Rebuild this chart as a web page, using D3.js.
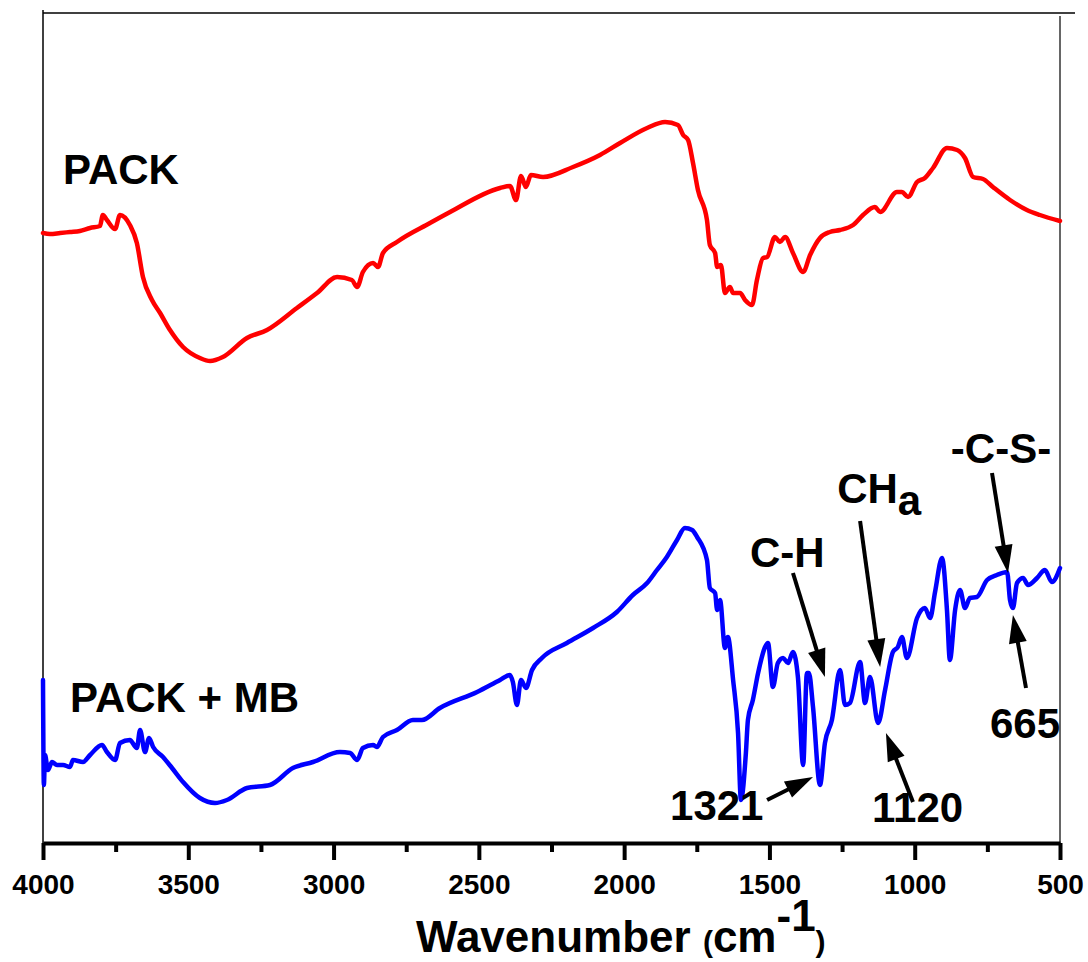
<!DOCTYPE html>
<html>
<head>
<meta charset="utf-8">
<script src="https://cdn.jsdelivr.net/npm/d3@7"></script>
<style>
    body{margin:0;background:#fff;}
    svg text{font-family:"Liberation Sans", Arial, sans-serif;font-weight:bold;fill:#000;}
</style>
</head>
<body>
<div id="chart"></div>
<script>
// FTIR spectra, signal in arbitrary units
const packWavenumber = [4000,3976,3941,3907,3873,3838,3804,3794,3780,3752,
    3735,3701,3677,3656,3625,3597,3563,3518,3460,3425,
    3381,3298,3229,3126,3057,2988,2937,2919,2899,2864,
    2847,2830,2782,2668,2599,2427,2393,2372,2355,2338,
    2321,2279,2176,2083,2014,1921,1859,1815,1797,1780,
    1763,1746,1715,1705,1687,1680,1667,1653,1636,1625,
    1601,1584,1560,1543,1522,1508,1481,1464,1446,1419,
    1384,1360,1326,1292,1257,1212,1178,1137,1119,1061,
    1044,1023,992,965,937,889,854,827,799,765,
    731,672,614,569,500];
const packSignal = [61.0,60.9,61.0,61.1,61.2,61.5,61.7,62.8,62.3,61.4,
    62.8,61.8,60.0,56.6,54.3,53.0,51.3,49.6,48.5,48.2,
    48.6,50.5,51.3,53.5,55.0,56.6,56.3,55.6,57.1,58.0,
    57.6,59.0,60.1,62.0,63.1,65.5,65.7,64.3,66.7,65.6,
    66.8,66.6,67.6,68.8,70.0,71.5,72.1,71.8,70.8,70.3,
    68.0,65.3,62.3,59.8,59.0,57.6,57.8,55.0,55.6,55.0,
    55.0,54.3,53.8,56.3,58.5,58.6,60.6,60.1,60.6,59.0,
    57.1,58.8,60.5,61.1,61.3,61.8,62.8,63.6,63.1,65.1,
    65.1,64.6,66.1,66.5,67.5,69.5,69.3,68.5,66.6,66.4,
    65.6,64.3,63.3,62.8,62.2];

const mbWavenumber = [4000,3997,3993,3983,3969,3952,3931,3907,3897,3862,
    3838,3797,3780,3752,3735,3701,3677,3666,3649,3635,
    3621,3587,3556,3518,3460,3408,3367,3298,3219,3140,
    3071,2978,2943,2919,2899,2864,2851,2830,2782,2727,
    2696,2634,2506,2427,2393,2383,2369,2355,2338,2317,
    2283,2197,2107,2025,1970,1921,1887,1853,1818,1791,
    1766,1749,1715,1705,1687,1680,1670,1653,1643,1625,
    1608,1598,1581,1574,1557,1539,1515,1505,1488,1471,
    1453,1436,1419,1402,1384,1371,1364,1350,1326,1309,
    1285,1257,1240,1223,1188,1171,1154,1126,1102,1075,
    1058,1044,1027,992,965,947,930,906,889,879,
    861,844,827,810,786,751,717,682,672,662,
    648,627,610,579,552,528,500];
const mbSignal = [16.3,5.8,8.8,7.3,8.1,7.8,7.8,7.6,8.3,8.1,
    8.8,9.8,9.1,8.3,10.0,10.3,9.5,11.3,9.1,10.5,
    9.6,8.6,7.5,6.1,4.5,4.0,4.3,5.5,5.8,7.5,
    8.1,9.1,9.0,8.3,9.5,9.8,9.6,10.6,11.3,12.3,
    12.3,13.5,15.1,16.3,16.8,16.1,13.8,16.3,15.5,17.3,
    18.5,20.0,21.5,23.1,24.8,26.0,27.3,28.6,30.3,31.5,
    31.3,30.6,28.3,25.5,25.0,23.3,24.3,19.5,20.6,16.3,
    11.0,4.3,9.0,12.3,14.3,17.0,19.6,20.0,15.6,18.0,
    18.5,18.0,19.1,16.6,7.8,17.0,17.0,13.6,5.8,10.0,
    12.3,17.3,13.8,14.0,18.1,14.0,16.6,12.0,15.3,19.1,
    19.6,20.6,18.5,22.5,23.5,22.5,25.1,28.5,23.3,18.3,
    23.3,25.3,23.5,24.5,24.6,26.3,26.8,27.1,24.3,23.5,
    26.0,26.5,25.8,26.5,27.3,26.1,27.5];

const majorTicks = [4000,3500,3000,2500,2000,1500,1000,500];
const minorTicks = [3750,3250,2750,2250,1750,1250,750];

const seriesColors = ["#ff0000", "#0000ff"];

// peak labels and arrows, in (wavenumber, signal) units
const peakLabels = [
    {text:"PACK", w:3931, v:65.9, anchor:"start"},
    {text:"PACK + MB", w:3907, v:13.1, anchor:"start"},
    {text:"C-H", w:1567, v:27.6, anchor:"start"},
    {text:"CH", sub:"a", w:1267, v:34.0, anchor:"start"},
    {text:"-C-S-", w:703, v:38.0, anchor:"middle"},
    {text:"1321", w:1842, v:2.3, anchor:"start"},
    {text:"1120", w:1147, v:2.1, anchor:"start"},
    {text:"665", w:741, v:10.5, anchor:"start"}
];
const peakArrows = [
    {from:[1419,27.0], to:[1309,16.6]},
    {from:[1188,32.2], to:[1119,17.6]},
    {from:[734,37.0], to:[679,27.0]},
    {from:[617,15.5], to:[662,22.8]},
    {from:[1508,4.3], to:[1350,6.6]},
    {from:[1006,4.1], to:[1099,11.0]}
];

const margin = {top: 12, right: 28, bottom: 119, left: 43};
const width = 1088 - margin.left - margin.right;
const height = 962 - margin.top - margin.bottom;

const svgRoot = d3.select("#chart").append("svg")
    .attr("width", 1088)
    .attr("height", 962);
const svg = svgRoot.append("g")
    .attr("transform", "translate(" + margin.left + "," + margin.top + ")");

const x = d3.scaleLinear().domain([4000, 500]).range([0, width]);
const y = d3.scaleLinear().domain([0, 83.1]).range([height, 0]);

// thin frame: top, left, right
svg.append("line")
    .attr("x1", x(4000)).attr("x2", x(500) + 15)
    .attr("y1", 1).attr("y2", 1)
    .attr("stroke", "#000").attr("stroke-width", 1.5);
svg.append("line")
    .attr("x1", x(4000)).attr("x2", x(4000))
    .attr("y1", -2).attr("y2", height)
    .attr("stroke", "#000").attr("stroke-width", 1.5);
svg.append("line")
    .attr("x1", x(500)).attr("x2", x(500))
    .attr("y1", 4).attr("y2", height)
    .attr("stroke", "#333").attr("stroke-width", 1.5);

// x axis
const minorAxis = svg.append("g")
    .attr("transform", "translate(0," + height + ")")
    .call(d3.axisBottom(x).tickValues(minorTicks).tickSize(9).tickSizeOuter(0).tickFormat(""));
minorAxis.select(".domain").remove();
minorAxis.selectAll(".tick line").attr("stroke-width", 4);

const majorAxis = svg.append("g")
    .attr("transform", "translate(0," + height + ")")
    .call(d3.axisBottom(x).tickValues(majorTicks).tickSize(17).tickSizeOuter(0).tickPadding(14).tickFormat(d3.format("d")));
majorAxis.select(".domain").attr("stroke-width", 4);
majorAxis.selectAll(".tick line").attr("stroke-width", 4);
majorAxis.selectAll(".tick text")
    .attr("font-size", 28)
    .attr("font-family", "Liberation Sans, Arial, sans-serif")
    .attr("font-weight", "bold");

// axis title
const title = svgRoot.append("text")
    .attr("x", 416)
    .attr("y", 952)
    .attr("font-size", 44);
title.append("tspan").text("Wavenumber ");
title.append("tspan").attr("font-size", 30).text("(");
title.append("tspan").text("cm");
title.append("tspan").attr("dy", -21).text("-1");
title.append("tspan").attr("dy", 21).attr("font-size", 30).text(")");

// spectra
const line = d3.line()
    .x(d=>x(d[0]))
    .y(d=>y(d[1]))
    .curve(d3.curveMonotoneX);

const spectra = [
    d3.zip(packWavenumber, packSignal),
    d3.zip(mbWavenumber, mbSignal)
];

svg.selectAll(".spectrum")
    .data(spectra)
    .join("path")
    .attr("class", "spectrum")
    .attr("fill", "none")
    .attr("stroke", (d,i)=>seriesColors[i])
    .attr("stroke-width", 4.5)
    .attr("stroke-linejoin", "round")
    .attr("stroke-linecap", "round")
    .attr("d", line);

// labels
const labelG = svg.selectAll(".peakLabel")
    .data(peakLabels)
    .join("text")
    .attr("class", "peakLabel")
    .attr("x", d=>x(d.w))
    .attr("y", d=>y(d.v))
    .attr("text-anchor", d=>d.anchor)
    .attr("font-size", 42);
labelG.append("tspan").text(d=>d.text);
labelG.filter(d=>d.sub).append("tspan").attr("dy", 12).text(d=>d.sub);

// arrows
const headLength = 28, headHalf = 9;
peakArrows.forEach(a=>{
    const x0 = x(a.from[0]), y0 = y(a.from[1]);
    const x1 = x(a.to[0]), y1 = y(a.to[1]);
    const len = Math.hypot(x1 - x0, y1 - y0);
    const ux = (x1 - x0) / len, uy = (y1 - y0) / len;
    const bx = x1 - ux * headLength, by = y1 - uy * headLength;
    svg.append("line")
        .attr("x1", x0).attr("y1", y0)
        .attr("x2", bx + ux * 4).attr("y2", by + uy * 4)
        .attr("stroke", "#000").attr("stroke-width", 4);
    svg.append("path")
        .attr("d", "M" + x1 + "," + y1
            + "L" + (bx - uy * headHalf) + "," + (by + ux * headHalf)
            + "L" + (bx + uy * headHalf) + "," + (by - ux * headHalf) + "Z")
        .attr("fill", "#000");
});
</script>
</body>
</html>
